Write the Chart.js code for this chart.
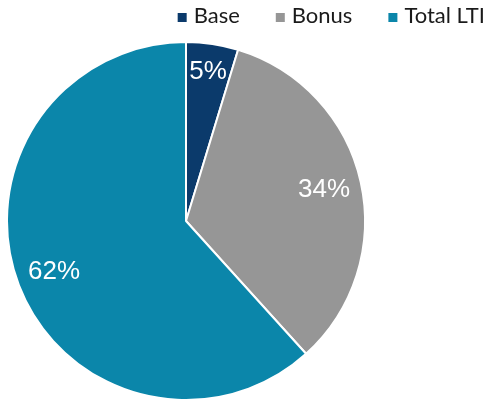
<!DOCTYPE html>
<html>
<head>
<meta charset="utf-8">
<script src="https://cdn.jsdelivr.net/npm/chart.js@4"></script>
<style>
  html, body { margin: 0; padding: 0; background: #fff; }
  #wrap { width: 488px; height: 401px; }
</style>
</head>
<body>
<div id="wrap"><canvas id="pie"></canvas></div>
<script>
const categories = ['Base', 'Bonus', 'Total LTI'];
const shares = [4.7, 33.6, 61.7];
const shareLabels = ['5%', '34%', '62%'];
const sliceColors = ['#0b3a6b', '#969696', '#0b86aa'];

// draws the percentage text inside each slice
const sliceLabels = {
  id: 'sliceLabels',
  afterDatasetsDraw(chart) {
    const ctx = chart.ctx;
    const meta = chart.getDatasetMeta(0);
    ctx.save();
    ctx.font = '26px "Liberation Sans", Arial, sans-serif';
    ctx.fillStyle = '#ffffff';
    ctx.textAlign = 'center';
    ctx.textBaseline = 'middle';
    meta.data.forEach((arc, i) => {
      const mid = (arc.startAngle + arc.endAngle) / 2;
      const r = arc.outerRadius * (i === 0 ? 0.84 : 0.79);
      ctx.fillText(shareLabels[i], arc.x + Math.cos(mid) * r, arc.y + Math.sin(mid) * r);
    });
    ctx.restore();
  }
};

// legend sits in the top right corner, independent of the pie area
const cornerLegend = {
  id: 'cornerLegend',
  afterDraw(chart) {
    const ctx = chart.ctx;
    const box = 9, gap = 7, spacing = 36;
    ctx.save();
    ctx.font = '22px Lato, sans-serif';
    ctx.textBaseline = 'middle';
    ctx.textAlign = 'left';
    let x = chart.width - 3;
    for (let i = categories.length - 1; i >= 0; i--) {
      const w = ctx.measureText(categories[i]).width;
      const textX = x - w;
      ctx.fillStyle = '#1a1a1a';
      ctx.fillText(categories[i], textX, 16);
      ctx.fillStyle = sliceColors[i];
      ctx.fillRect(textX - gap - box, 13, box, box);
      x = textX - gap - box - spacing;
    }
    ctx.restore();
  }
};

new Chart(document.getElementById('pie'), {
  type: 'pie',
  data: {
    labels: categories,
    datasets: [{
      data: shares,
      backgroundColor: sliceColors,
      borderColor: '#ffffff',
      borderWidth: 2
    }]
  },
  options: {
    responsive: true,
    maintainAspectRatio: false,
    animation: false,
    layout: { padding: { left: 6, right: 122, top: 41, bottom: 0 } },
    plugins: {
      legend: { display: false },
      tooltip: { enabled: false }
    }
  },
  plugins: [sliceLabels, cornerLegend]
});
</script>
</body>
</html>
